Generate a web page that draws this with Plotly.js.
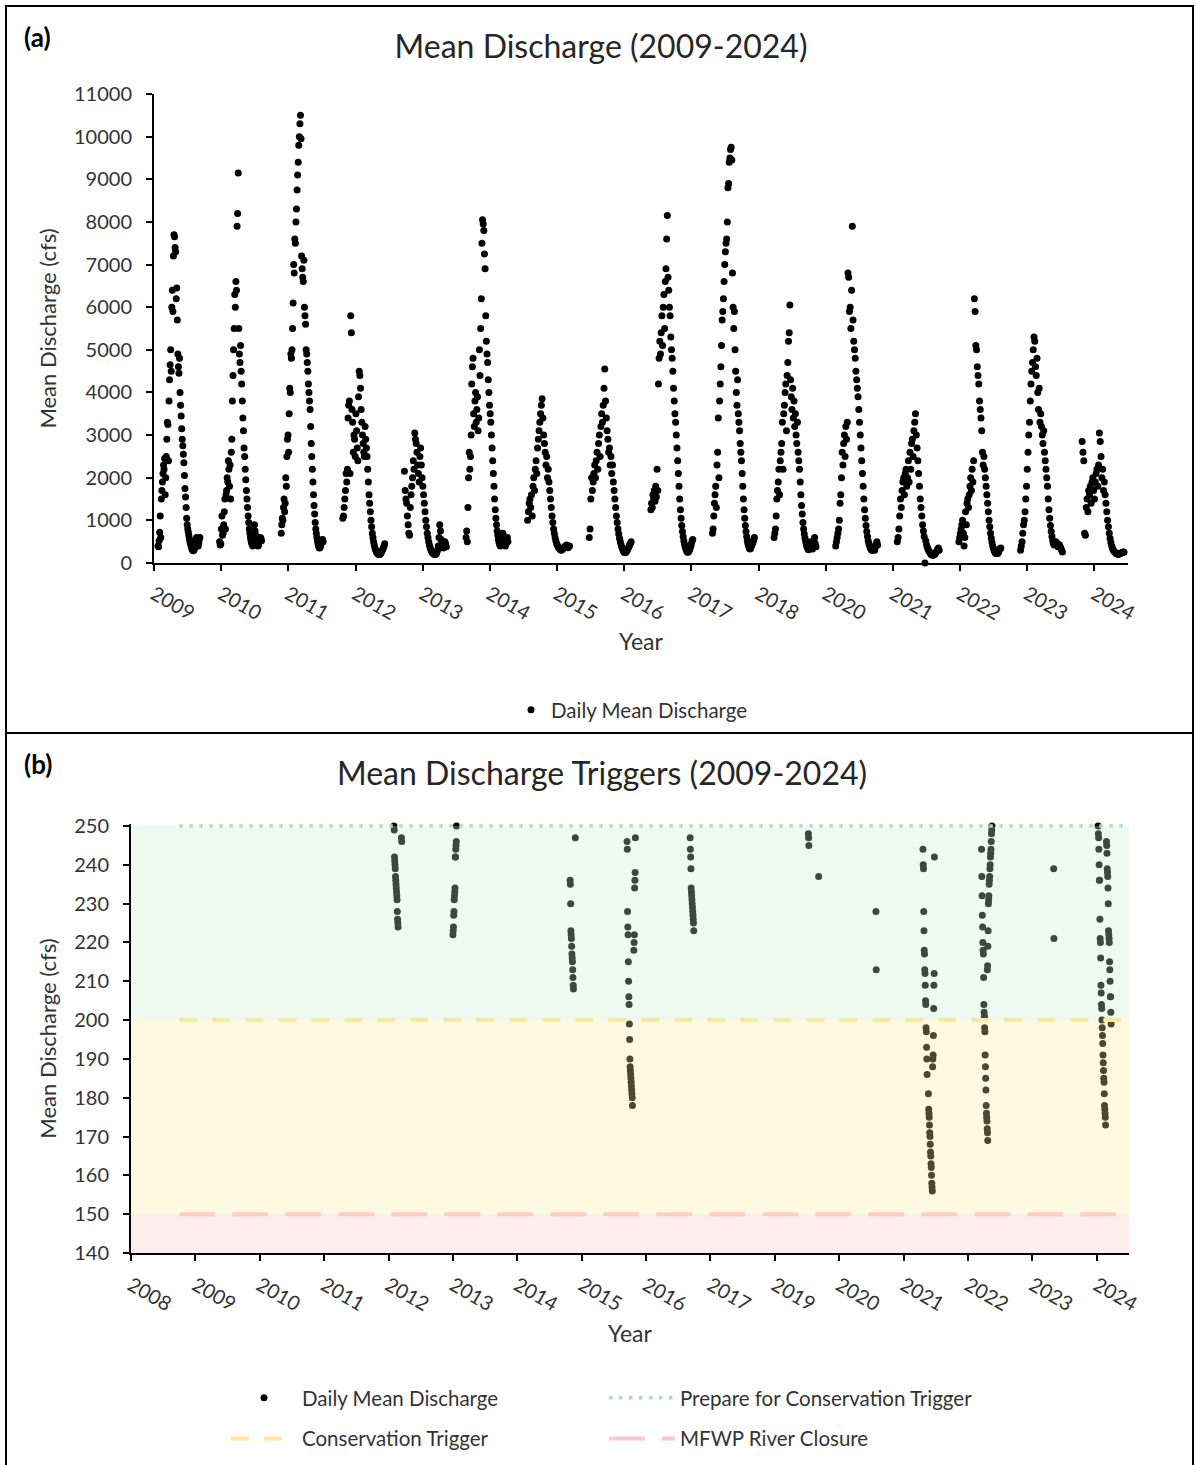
<!DOCTYPE html>
<html>
<head>
<meta charset="utf-8">
<script src="https://cdn.plot.ly/plotly-3.0.1.min.js"></script>
<style>html,body{margin:0;padding:0;background:#fff}#chart{width:1195px;height:1465px}</style>
</head>
<body>
<div id="chart"></div>
<script>
// ---------- DATA ----------
const tickLabelsA = ['2009','2010','2011','2012','2013','2014','2015','2016','2017','2018','2020','2021','2022','2023','2024'];
const tickLabelsB = ['2008','2009','2010','2011','2012','2013','2014','2015','2016','2017','2019','2020','2021','2022','2023','2024'];

const seasonYears = [2009,2010,2011,2012,2013,2014,2015,2016,2017,2018,2019,2020,2021,2022,2023,2024];

const flow2009 = [400,380,520,720,1100,600,1500,1700,1900,2100,2300,2200,2450,1600,2000,2500,2900,3300,3250,2400,3800,4300,4650,5000,4500,6000,6400,5900,7200,7700,7650,7400,7300,6200,6450,5700,4900,4600,4450,4800,4000,3700,3450,3150,2900,2750,2550,2350,2050,1750,1550,1300,1050,900,800,720,640,570,500,450,400,350,320,300,290,300,330,380,450,550,600,520,450,400,480,560,600];
const flow2010 = [500,420,450,800,1100,650,700,900,1200,1500,800,1600,1700,2000,1900,2400,2200,1800,2300,1500,2600,2900,3800,4400,5000,5500,6300,6000,6600,6400,7900,8200,9150,5500,4900,4700,5100,4500,4200,3800,3400,3100,2700,2500,2200,1950,1700,1500,1300,1100,950,800,700,600,520,470,430,400,450,600,900,750,650,550,480,420,400,430,480,550,600,580,520];
const flow2011 = [700,900,1050,1000,1300,1500,1200,1400,2000,1800,2500,2900,3000,2600,3500,4100,4000,4900,4800,5000,5500,6100,7000,6800,7600,7500,8000,8300,8750,9100,9400,9800,10000,10300,10500,9950,7200,6900,6700,6600,7100,6000,5800,5600,5000,4900,4700,4500,4200,4000,3800,3600,3200,2800,2500,2200,1900,1600,1350,1150,950,800,700,600,520,450,400,360,350,380,420,480,520,550,500];
const flow2012 = [1050,1100,1300,1500,1700,2100,1900,2200,3400,3700,3800,2100,5800,5400,3600,3300,2600,3000,2900,2500,3500,3100,2700,2400,3900,4500,4400,4100,3600,3300,3000,2800,2600,2500,3200,2900,2700,2500,2200,1900,1600,1400,1200,1000,850,700,600,500,420,360,310,270,240,220,210,200,200,210,230,260,290,320,360,400,450];
const flow2013 = [2150,1700,1500,1400,1100,900,700,650,1300,1600,1800,2000,2400,2200,3050,2900,2800,2600,2300,2100,1900,2500,2700,2300,2000,1800,1600,1400,1200,1000,850,700,600,500,420,360,310,270,240,220,210,200,200,210,240,300,400,600,900,750,550,450,380,350,400,500,450,380];
const flow2014 = [600,750,500,1300,2000,2600,2200,2500,3000,4200,4600,4800,3500,3200,3800,4000,3300,3600,3900,3100,3400,5000,4400,5500,6200,7500,8050,7950,7800,7250,6900,5800,5200,4900,4700,4300,4000,3700,3500,3300,3000,2700,2400,2100,1800,1500,1250,1050,900,750,650,550,480,430,400,450,500,600,700,550,480,420,400,450,550,600,500];
const flow2015 = [1000,1200,1400,1500,1300,1600,1100,1800,2000,1700,2200,2400,2100,2700,2900,3100,3300,3500,3700,3850,3400,3000,2800,2600,2300,2500,2000,2200,1900,1700,1500,1300,1100,950,800,700,600,520,460,420,380,350,330,310,300,310,330,350,370,390,400,420,380,360,380,400];
const flow2016 = [600,800,1500,2000,1700,1900,2100,2300,2000,2400,2600,2200,2800,3000,2500,3200,3500,3300,3700,4100,4550,3800,3400,3100,2900,2600,2700,2300,2500,2100,2300,1900,1700,1500,1300,1100,950,800,680,580,500,430,370,320,280,250,240,250,270,300,340,380,420,460,500];
const flow2017 = [1250,1400,1300,1600,1500,1700,1450,1800,1550,2200,1700,4200,4800,5200,4900,5400,5800,5100,6000,6300,5500,6600,6900,7600,8150,6700,6400,6000,5800,5300,5000,4800,4500,4100,3800,3500,3300,3000,2700,2400,2100,1800,1500,1250,1050,880,740,620,520,440,380,330,290,260,250,270,300,340,390,450,520,550];
const flow2018 = [700,800,1100,1400,1600,1800,1300,2300,2600,3400,2000,3800,4200,4600,5100,5700,5900,6200,6600,7000,7300,7500,7600,8000,8800,8900,9400,9500,9700,9750,9450,6800,6000,5500,5900,5000,4500,4000,3700,4300,3500,3300,3100,2800,2600,2400,2100,1800,1500,1250,1050,880,740,620,520,450,400,350,330,340,380,420,460,500,550,600];
const flow2019 = [600,700,800,1100,1500,1700,1900,2200,1600,2400,2600,2800,3300,2200,3500,3700,4000,4200,3100,4400,4700,5200,5400,6050,4300,3900,3600,4100,3400,3800,3200,3500,3000,2800,3300,2600,2400,2200,1900,1600,1350,1150,950,800,680,580,500,430,380,340,310,330,400,500,420,360,330,400,520,600,450,380];
const flow2020 = [400,500,600,700,800,1000,1400,1600,2000,2600,2300,2800,3000,2500,3200,2900,3300,6800,6700,5900,6000,5500,6400,7900,5700,5200,5000,4800,4500,4300,4100,3900,3600,3300,3000,2700,2400,2100,1800,1500,1250,1050,880,740,620,520,450,400,350,320,300,300,320,350,300,380,450,500,420];
const flow2021 = [500,600,800,1100,1500,1300,1700,1900,2000,1600,2100,2200,1800,2000,2400,1900,2600,2200,2800,2900,2500,3100,3300,3500,3000,2700,2400,2100,1800,1500,1300,1100,900,750,620,0,520,430,370,320,280,250,220,200,190,180,190,200,220,250,280,320,350,300];
const flow2022 = [500,600,700,800,900,1000,700,400,600,1200,900,1400,1500,1300,1600,1800,2000,1700,2200,1900,2400,6200,5900,5100,5000,4600,4400,4200,3800,3600,3400,3100,2600,2300,2500,2200,2000,1800,1600,1400,1200,1000,850,700,580,480,400,340,290,250,230,220,220,230,260,300,340,350];
const flow2023 = [300,400,500,700,900,1000,1200,1500,1800,2200,2600,3000,3300,3800,4200,4500,4700,5000,5300,5200,4600,4400,4800,4000,3600,4100,3300,3500,3200,3000,2800,3100,2600,2400,2200,2000,1800,1500,1250,1050,880,740,620,520,460,420,450,500,480,420,380,400,430,380,340,300,260];
const flow2024 = [2850,2600,2400,700,650,1300,1500,1200,1700,1600,1800,1400,1900,2000,1700,1500,1900,2100,2200,1800,2300,3050,2850,2500,2000,2200,1700,1900,1600,1400,1200,1000,850,700,580,480,400,340,300,270,250,230,220,210,200,210,220,230,240,250,260,250];

const seasonFlows = [flow2009,flow2010,flow2011,flow2012,flow2013,flow2014,flow2015,flow2016,flow2017,flow2018,flow2019,flow2020,flow2021,flow2022,flow2023,flow2024];

// Low-flow days (<= 250 cfs) for panel (b): each run = consecutive days starting at a time position on the (b) axis
const lowRunStart = [4.08, 4.20, 5.00, 6.82, 6.90, 7.70, 7.81, 8.68, 10.52, 10.68, 11.57, 12.30, 12.385, 12.45, 13.21, 13.30, 14.33, 15.02, 15.15];
const lowRunValues = [
  [251,250,249,242,241,240,239,237,236,235,234,233,232,231,228,226,225,224],
  [247,246],
  [222,223,224,227,228,231,232,233,234,242,242,244,245,246,250,251],
  [236,235,230,223,222,221,219,217,216,215,213,211,209,208],
  [247],
  [251,246,244,228,224,222,215,210,206,204,199,195,190,188,187,186,185,184,183,182,181,180,178],
  [218,220,222,234,236,238,247],
  [251,247,244,242,239,234,233,232,231,230,229,228,227,226,225,223],
  [248,247,245],
  [237],
  [228,213],
  [244,240,239,228,223,218,217,213,212,209,205,204,198,197,193,190,186],
  [181,177,176,175,173,171,170,168,166,165,163,162,160,158,157,156],
  [188,190,191,196,203,209,212,242],
  [244,237,232,227,224,220,218,217,211,204,202,201,198,197,191,188,185,182,178,176,175,174,172,171,169],
  [213,214,219,223,230,231,232,235,236,237,239,240,242,243,244,246,248,249,250],
  [239,221],
  [250,248,247,244,240,236,236,226,221,220,216,209,207,204,203,200,198,196,194,191,189,187,185,184,181,178,177,176,175,173],
  [246,245,243,239,238,237,234,230,223,222,221,220,215,213,210,206,206,202,199]
];

const prepareTrigger = 250;
const conservationTrigger = 200;
const closureLevel = 150;
const floorB = 140;
const thresholdLineSpan = [0.75, 15.5];

// ---------- BUILD ----------
const W = 1195, H = 1465;
const px = v => v / W;            // horizontal pixel -> paper
const py = v => 1 - v / H;        // vertical pixel -> paper

const TICK_STEP_A = 1.0903;       // tick spacing in season units
const SEASON_OFFSET = 0.065, SEASON_SPAN = 0.68;
const ax = [], ay = [];
seasonFlows.forEach((vals, k) => {
  vals.forEach((v, i) => {
    ax.push(k + SEASON_OFFSET + SEASON_SPAN * i / (vals.length - 1));
    ay.push(v);
  });
});
const tickValsA = tickLabelsA.map((_, i) => i * TICK_STEP_A);
const rangeA = [0, 14.5 * TICK_STEP_A];

const DAY_STEP_B = 0.004;
const bx = [], by = [];
lowRunValues.forEach((vals, r) => {
  vals.forEach((v, i) => { bx.push(lowRunStart[r] + DAY_STEP_B * i); by.push(v); });
});
const tickValsB = tickLabelsB.map((_, i) => i);
const rangeB = [0, 15.5];
const rangeYB = [floorB, prepareTrigger + 0.5];   // small headroom so the 250 dotted line is not clipped

const FONT = 'Lato, "Open Sans", sans-serif';
const TXT = '#333333';

const traces = [
  {type:'scatter', mode:'markers', x:ax, y:ay, xaxis:'x', yaxis:'y', name:'Daily Mean Discharge',
   marker:{color:'#000', size:7}, legend:'legend', showlegend:true, cliponaxis:false},
  {type:'scatter', mode:'markers', x:bx, y:by, xaxis:'x2', yaxis:'y2', name:'Daily Mean Discharge',
   marker:{color:'#000', size:7}, legend:'legend2', legendgroup:'g1', showlegend:true, cliponaxis:false},
  {type:'scatter', mode:'lines', x:thresholdLineSpan, y:[prepareTrigger, prepareTrigger], xaxis:'x2', yaxis:'y2',
   name:'Prepare for Conservation Trigger', line:{color:'#A6DFB2', width:3.5, dash:'3.5px,6.5px'}, legend:'legend3', legendgroup:'g2', showlegend:true},
  {type:'scatter', mode:'lines', x:thresholdLineSpan, y:[conservationTrigger, conservationTrigger], xaxis:'x2', yaxis:'y2',
   name:'Conservation Trigger', line:{color:'#FFE999', width:4, dash:'18px,15px'}, legend:'legend2', legendgroup:'g3', showlegend:true},
  {type:'scatter', mode:'lines', x:thresholdLineSpan, y:[closureLevel, closureLevel], xaxis:'x2', yaxis:'y2',
   name:'MFWP River Closure', line:{color:'#FFC7CE', width:4, dash:'36px,17px'}, legend:'legend3', legendgroup:'g4', showlegend:true}
];

const domXA = [px(154), px(1128)], domYA = [py(563), py(94)];
const domXB = [px(131), px(1129)], domYB = [py(1253), py(824.06)];

const baseAxis = {showgrid:false, zeroline:false, showline:true, linecolor:'#000', linewidth:2,
  ticks:'outside', ticklen:6, tickwidth:2, tickcolor:'#000', fixedrange:true,
  tickfont:{family:FONT, size:20, color:TXT}};
const innerAxis = {showgrid:false, zeroline:false, showline:false, ticks:'inside', ticklen:6, tickwidth:2,
  tickcolor:'#000', showticklabels:false, fixedrange:true};

const layout = {
  width:W, height:H, margin:{l:0, r:0, t:0, b:0},
  paper_bgcolor:'#fff', plot_bgcolor:'rgba(0,0,0,0)', showlegend:true,
  font:{family:FONT, color:TXT},
  title:{text:'Mean Discharge (2009-2024)', x:px(601), xanchor:'center', y:py(47), yanchor:'middle',
    font:{family:FONT, size:32, color:'#262626'}},
  xaxis: Object.assign({}, baseAxis, {domain:domXA, anchor:'y', range:rangeA, tickmode:'array',
    tickvals:tickValsA, ticktext:tickLabelsA, tickangle:30, ticklabelstandoff:4,
    title:{text:'Year', font:{family:FONT, size:23, color:TXT}, standoff:10}}),
  yaxis: Object.assign({}, baseAxis, {domain:domYA, anchor:'x', range:[0, 11000], dtick:1000, tick0:0,
    tickformat:'d', ticklabelstandoff:10,
    title:{text:'Mean Discharge (cfs)', font:{family:FONT, size:22, color:TXT}, standoff:11}}),
  xaxis3: Object.assign({}, innerAxis, {overlaying:'x', anchor:'y', range:rangeA, tickmode:'array', tickvals:tickValsA}),
  yaxis3: Object.assign({}, innerAxis, {overlaying:'y', anchor:'x', range:[0, 11000], dtick:1000, tick0:0}),
  xaxis2: Object.assign({}, baseAxis, {domain:domXB, anchor:'y2', range:rangeB, tickmode:'array',
    tickvals:tickValsB, ticktext:tickLabelsB, tickangle:30, ticklabelstandoff:5,
    title:{text:'Year', font:{family:FONT, size:23, color:TXT}, standoff:11}}),
  yaxis2: Object.assign({}, baseAxis, {domain:domYB, anchor:'x2', range:rangeYB, dtick:10, tick0:140,
    ticklabelstandoff:10,
    title:{text:'Mean Discharge (cfs)', font:{family:FONT, size:22, color:TXT}, standoff:11}}),
  xaxis4: Object.assign({}, innerAxis, {overlaying:'x2', anchor:'y2', range:rangeB, tickmode:'array', tickvals:tickValsB}),
  yaxis4: Object.assign({}, innerAxis, {overlaying:'y2', anchor:'x2', range:rangeYB, dtick:10, tick0:140}),
  legend:{x:px(632), xanchor:'center', y:py(710), yanchor:'middle', orientation:'h',
    font:{family:FONT, size:20.5, color:TXT}, bgcolor:'rgba(0,0,0,0)'},
  legend2:{x:px(226), xanchor:'left', y:py(1378), yanchor:'top', orientation:'v', itemwidth:66, tracegroupgap:11,
    font:{family:FONT, size:20.5, color:TXT}, bgcolor:'rgba(0,0,0,0)'},
  legend3:{x:px(604), xanchor:'left', y:py(1378), yanchor:'top', orientation:'v', itemwidth:66, tracegroupgap:11,
    font:{family:FONT, size:20.5, color:TXT}, bgcolor:'rgba(0,0,0,0)'},
  annotations:[
    {text:'<b>(a)</b>', xref:'paper', yref:'paper', x:px(22), y:py(19), xanchor:'left', yanchor:'top', showarrow:false,
     font:{family:FONT, size:26, color:'#000'}},
    {text:'<b>(b)</b>', xref:'paper', yref:'paper', x:px(22), y:py(746), xanchor:'left', yanchor:'top', showarrow:false,
     font:{family:FONT, size:26, color:'#000'}},
    {text:'Mean Discharge Triggers (2009-2024)', xref:'paper', yref:'paper', x:px(602), y:py(773), xanchor:'center',
     yanchor:'middle', showarrow:false, font:{family:FONT, size:32, color:'#262626'}}
  ],
  shapes:[
    {type:'rect', xref:'x2', yref:'y2', x0:rangeB[0], x1:rangeB[1], y0:conservationTrigger, y1:prepareTrigger,
     fillcolor:'rgba(198,239,206,0.3)', line:{width:0}, layer:'above'},
    {type:'rect', xref:'x2', yref:'y2', x0:rangeB[0], x1:rangeB[1], y0:closureLevel, y1:conservationTrigger,
     fillcolor:'rgba(255,235,156,0.3)', line:{width:0}, layer:'above'},
    {type:'rect', xref:'x2', yref:'y2', x0:rangeB[0], x1:rangeB[1], y0:floorB, y1:closureLevel,
     fillcolor:'rgba(255,199,206,0.3)', line:{width:0}, layer:'above'},
    {type:'rect', xref:'paper', yref:'paper', x0:px(6), x1:px(1193), y0:py(733), y1:py(6),
     line:{color:'#000', width:2}, fillcolor:'rgba(0,0,0,0)'},
    {type:'rect', xref:'paper', yref:'paper', x0:px(6), x1:px(1193), y0:py(1470), y1:py(733),
     line:{color:'#000', width:2}, fillcolor:'rgba(0,0,0,0)'}
  ]
};

Plotly.newPlot('chart', traces, layout, {displayModeBar:false, staticPlot:true});
</script>
</body>
</html>
